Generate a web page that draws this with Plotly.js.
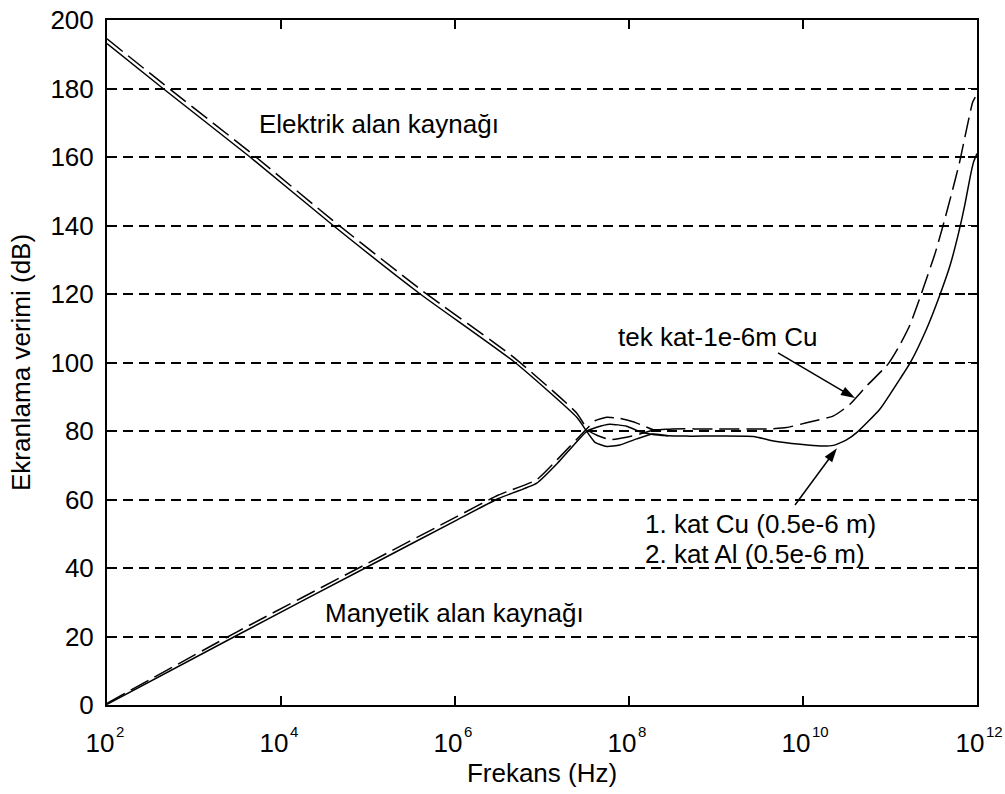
<!DOCTYPE html>
<html><head><meta charset="utf-8">
<script src="https://cdn.plot.ly/plotly-3.0.1.min.js"></script>
<style>html,body{margin:0;padding:0;background:#fff}#chart{width:1005px;height:794px}</style>
</head><body><div id="chart"></div>
<script>
// log10(frequency in Hz) and shielding effectiveness (dB)
const elecTwoLayerLogF = [2, 2.644, 3.644, 4.6, 5.6, 6.69, 7.40, 7.514, 7.609, 7.744, 7.894, 8.087, 8.276, 8.45, 8.7, 9.43, 9.66, 9.97, 10.2, 10.35, 10.5, 10.62, 10.885, 11.115, 11.23, 11.42, 11.57, 11.69, 11.79, 11.86, 11.92, 11.96, 12];
const elecTwoLayerDb   = [193.1, 180, 160, 140, 120, 100, 84.0, 79.9, 76.7, 75.5, 75.9, 77.7, 79.1, 78.6, 78.5, 78.4, 77.1, 76.1, 75.6, 75.8, 77.4, 79.6, 86.4, 95.2, 99.8, 109.8, 119.5, 128.3, 138, 146, 154, 158.5, 161];

const elecSingleLogF = [2, 2.644, 3.644, 4.6, 5.6, 6.69, 7.40, 7.53, 7.644, 7.779, 7.972, 8.126, 8.276, 8.5, 9.0, 9.59, 9.81, 10.04, 10.35, 10.54, 10.73, 10.98, 11.1, 11.23, 11.38, 11.52, 11.61, 11.71, 11.80, 11.85, 11.90, 11.95, 11.98];
const elecSingleDb   = [194.5, 181.4, 161.4, 141.4, 121.4, 101.2, 85.2, 80.2, 78.6, 77.5, 78.2, 79.1, 80.2, 80.6, 80.6, 80.6, 81.0, 82.4, 84.4, 87.8, 93.1, 99.6, 104.5, 111, 121.5, 132, 140, 149.5, 158.5, 164.5, 170.5, 176, 177.5];

const magTwoLayerLogF = [2, 3.49, 4.99, 6.02, 6.5, 6.94, 7.2, 7.514, 7.629, 7.779, 7.972, 8.126, 8.276, 8.45];
const magTwoLayerDb   = [0.2, 20.3, 40.3, 54.0, 60.3, 64.8, 71.2, 79.9, 81.1, 82.0, 81.4, 79.8, 79.0, 78.6];

const magSingleLogF = [2, 3.49, 4.99, 6.02, 6.5, 6.94, 7.2, 7.49, 7.609, 7.744, 7.894, 8.046, 8.161, 8.276, 8.45];
const magSingleDb   = [0.5, 21.3, 41.3, 55.0, 61.3, 65.8, 72.3, 80.0, 83.0, 84.0, 83.7, 82.7, 81.6, 80.4, 80.6];

// pointer arrows (tail -> head)
const arrowSingleLogF = [9.713, 10.598];
const arrowSingleDb   = [102.8, 89.6];
const arrowTwoLayerLogF = [9.908, 10.39];
const arrowTwoLayerDb   = [58.4, 75.0];

const xTickExponents = [2, 4, 6, 8, 10, 12];
const xTickBase = '10';
const yTickValues = [0, 20, 40, 60, 80, 100, 120, 140, 160, 180, 200];

const toHz = a => a.map(v => Math.pow(10, v));
const FONT = 'Liberation Sans, Arial, sans-serif';

function curve(logF, db, dashed) {
  return {
    x: toHz(logF), y: db, type: 'scatter', mode: 'lines', hoverinfo: 'skip',
    line: {color: '#000', width: 1.5, shape: 'spline', smoothing: 0.5, dash: dashed ? '20px,7px' : 'solid'},
    showlegend: false
  };
}
function pointer(logF, db) {
  return {
    x: toHz(logF), y: db, type: 'scatter', mode: 'lines+markers', hoverinfo: 'skip',
    line: {color: '#000', width: 1.5},
    marker: {symbol: 'arrow', size: [0, 15], angleref: 'previous', color: '#000', opacity: 1, line: {width: 0}},
    showlegend: false, cliponaxis: false
  };
}

const traces = [
  curve(elecTwoLayerLogF, elecTwoLayerDb, false),
  curve(elecSingleLogF, elecSingleDb, true),
  curve(magTwoLayerLogF, magTwoLayerDb, false),
  curve(magSingleLogF, magSingleDb, true),
  pointer(arrowSingleLogF, arrowSingleDb),
  pointer(arrowTwoLayerLogF, arrowTwoLayerDb)
];

const txt = (x, y, text) => ({x: x, y: y, xref: 'x', yref: 'y', text: text, showarrow: false,
  xanchor: 'left', yanchor: 'middle', font: {family: FONT, size: 26, color: '#000'}});

// exponent of each decade label, set as a superscript beside the axis's "10"
const exponentLabels = xTickExponents.map(e => ({
  x: e, y: 0, xref: 'x', yref: 'paper', text: String(e), showarrow: false,
  xanchor: 'left', yanchor: 'top', xshift: 7, yshift: -16,
  font: {family: FONT, size: 15, color: '#000'}
}));

const layout = {
  width: 1005, height: 794,
  margin: {l: 107, r: 28, t: 20, b: 89},
  paper_bgcolor: '#fff', plot_bgcolor: 'rgba(0,0,0,0)',
  font: {family: FONT, size: 26, color: '#000'},
  xaxis: {
    type: 'log', range: [2, 12],
    tickvals: xTickExponents.map(e => Math.pow(10, e)),
    ticktext: xTickExponents.map(() => xTickBase),
    ticks: 'inside', ticklen: 9, tickwidth: 1.5, tickcolor: '#000',
    showline: true, linecolor: '#000', linewidth: 2, mirror: 'ticks',
    showgrid: false, zeroline: false,
    tickfont: {family: FONT, size: 26, color: '#000'},
    ticklabelstandoff: 14, ticklabelshift: -7,
    title: {text: 'Frekans (Hz)', font: {family: FONT, size: 26, color: '#000'}, standoff: 6}
  },
  yaxis: {
    range: [0, 200], tickvals: yTickValues,
    ticks: 'inside', ticklen: 9, tickwidth: 1.5, tickcolor: '#000',
    showline: true, linecolor: '#000', linewidth: 2, mirror: 'ticks',
    showgrid: true, gridcolor: '#000', gridwidth: 2, griddash: '10px,6px',
    zeroline: false,
    tickfont: {family: FONT, size: 26, color: '#000'},
    ticklabelstandoff: 6,
    title: {text: 'Ekranlama verimi (dB)', font: {family: FONT, size: 26, color: '#000'}, standoff: 12}
  },
  annotations: [
    txt(3.724, 169.5, 'Elektrik alan kaynağı'),
    txt(4.483, 27.0, 'Manyetik alan kaynağı'),
    txt(7.85, 107.5, 'tek kat-1e-6m Cu'),
    txt(8.161, 52.8, '1. kat Cu (0.5e-6 m)'),
    txt(8.161, 44.0, '2. kat Al (0.5e-6 m)')
  ].concat(exponentLabels)
};

Plotly.newPlot('chart', traces, layout, {staticPlot: true});
</script>
</body></html>
